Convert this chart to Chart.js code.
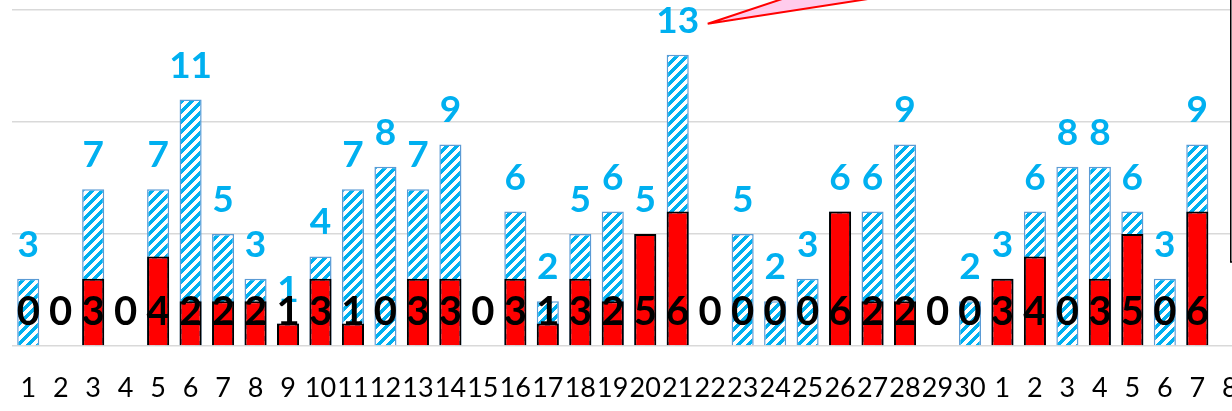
<!DOCTYPE html>
<html>
<head>
<meta charset="utf-8">
<script src="https://cdn.jsdelivr.net/npm/chart.js@4.4.1/dist/chart.umd.min.js"></script>
<style>
  html, body { margin: 0; padding: 0; background: #fff; overflow: hidden; }
  canvas { display: block; }
</style>
</head>
<body>
<canvas id="chart" width="1246" height="411"></canvas>
<script>
// day of month, last month 1..30 then this month 1..8
const days = ['1','2','3','4','5','6','7','8','9','10','11','12','13','14','15',
  '16','17','18','19','20','21','22','23','24','25','26','27','28','29','30',
  '1','2','3','4','5','6','7','8'];

// total count per day (blue hatched bars)
const totals = [3, 0, 7, 0, 7, 11, 5, 3, 1, 4, 7, 8, 7, 9, 0,
  6, 2, 5, 6, 5, 13, 0, 5, 2, 3, 6, 6, 9, 0, 2,
  3, 6, 8, 8, 6, 3, 9, null];

// part of it (red bars)
const reds = [0, 0, 3, 0, 4, 2, 2, 2, 1, 3, 1, 0, 3, 3, 0,
  3, 1, 3, 2, 5, 6, 0, 0, 0, 0, 6, 2, 2, 0, 0,
  3, 4, 0, 3, 5, 0, 6, null];

const yTicks = [0, 5, 10, 15];

const canvas = document.getElementById('chart');
const ctx = canvas.getContext('2d');

// pixel hatch, like the office "wide upward diagonal" pattern
function makeHatch() {
  const n = 10, w = 5;
  const c = document.createElement('canvas');
  c.width = n; c.height = n;
  const g = c.getContext('2d');
  g.fillStyle = '#fff';
  g.fillRect(0, 0, n, n);
  g.fillStyle = '#00B0F0';
  for (let y = 0; y < n; y++) {
    for (let x = 0; x < n; x++) {
      if ((x + y) % n < w) g.fillRect(x, y, 1, 1);
    }
  }
  return ctx.createPattern(c, 'repeat');
}

// value labels + the callout bits
const labelsPlugin = {
  id: 'labels',
  afterDatasetsDraw(chart) {
    const c = chart.ctx;
    const yScale = chart.scales.y;
    const xScale = chart.scales.x;
    c.save();
    c.textAlign = 'center';
    c.textBaseline = 'alphabetic';

    const blue = chart.getDatasetMeta(1);
    c.font = 'bold 37px Lato';
    c.fillStyle = '#00B0F0';
    blue.data.forEach((bar, i) => {
      const v = totals[i];
      if (v) c.fillText(String(v), bar.x, bar.y - 22);
    });

    const red = chart.getDatasetMeta(0);
    c.font = 'bold 40px Lato';
    c.fillStyle = '#000';
    red.data.forEach((bar, i) => {
      const v = reds[i];
      if (v !== null && v !== undefined) c.fillText(String(v), bar.x, yScale.bottom - 21);
    });

    // callout wedge pointing at the peak
    const iMax = totals.indexOf(Math.max(...totals.filter(v => v !== null)));
    const tipX = xScale.getPixelForValue(iMax) + 30;
    const tipY = yScale.getPixelForValue(totals[iMax]) - 31;
    c.beginPath();
    c.moveTo(tipX, tipY);
    c.lineTo(tipX + 144, tipY - 48);
    c.lineTo(tipX + 310, tipY - 48);
    c.closePath();
    c.fillStyle = '#FFCCEC';
    c.fill();
    c.strokeStyle = '#FF0000';
    c.lineWidth = 2;
    c.beginPath();
    c.moveTo(tipX + 144, tipY - 48);
    c.lineTo(tipX, tipY);
    c.lineTo(tipX + 310, tipY - 48);
    c.stroke();

    // edge of the text box on the right
    const bx = xScale.getPixelForValue(days.length - 1) + 1;
    const bBottom = yScale.getPixelForValue(3.75);
    c.fillStyle = '#fff';
    c.fillRect(bx, -5, 200, bBottom + 5);
    c.strokeStyle = '#000';
    c.lineWidth = 1.5;
    c.strokeRect(bx, -5, 200, bBottom + 5);
    c.restore();
  }
};

new Chart(ctx, {
  type: 'bar',
  data: {
    labels: days,
    datasets: [
      {
        label: 'red',
        data: reds,
        backgroundColor: '#FF0000',
        borderColor: '#000',
        borderWidth: 2,
        order: 0
      },
      {
        label: 'total',
        data: totals,
        backgroundColor: makeHatch(),
        borderColor: '#5B9BD5',
        borderWidth: 1.5,
        order: 1
      }
    ]
  },
  options: {
    responsive: false,
    animation: false,
    devicePixelRatio: 1,
    layout: { padding: { left: 12, top: 10, right: 0, bottom: 8 } },
    datasets: {
      bar: { grouped: false, barPercentage: 0.68, categoryPercentage: 1.0 }
    },
    plugins: {
      legend: { display: false },
      tooltip: { enabled: false }
    },
    scales: {
      x: {
        grid: { display: false, drawTicks: false },
        border: { display: false },
        ticks: {
          color: '#000',
          font: { family: 'Lato', size: 27 },
          padding: 26,
          maxRotation: 0,
          autoSkip: false
        },
        afterFit(s) { s.height = 57; s.paddingLeft = 0; s.paddingRight = 0; }
      },
      y: {
        min: 0,
        max: 15,
        afterBuildTicks(s) { s.ticks = yTicks.map(v => ({ value: v })); },
        grid: { color: '#D9D9D9', lineWidth: 1.5, drawTicks: false },
        border: { display: false },
        ticks: { display: false, padding: 0 },
        afterFit(s) { s.width = 0; }
      }
    }
  },
  plugins: [labelsPlugin]
});
</script>
</body>
</html>
